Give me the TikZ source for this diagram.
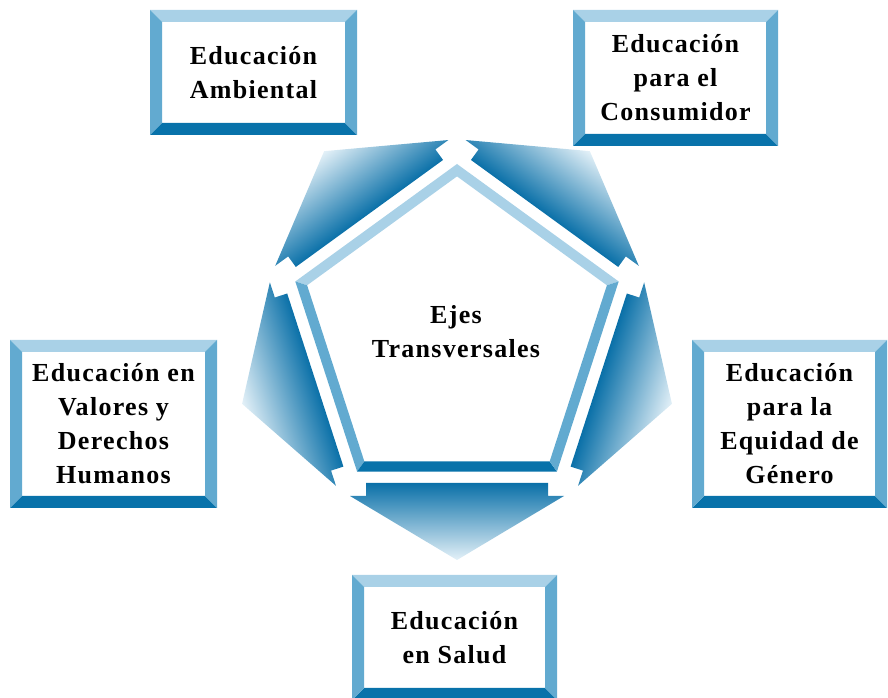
\documentclass[tikz,border=0pt]{standalone}
\usepackage{fontspec}
\setmainfont{Liberation Serif}
\newfontfamily\boxfont{Liberation Serif}[LetterSpace=5]
\definecolor{lightb}{RGB}{169,209,231}
\definecolor{medb}{RGB}{98,170,208}
\definecolor{darkb}{RGB}{8,114,170}
\definecolor{shadedark}{RGB}{10,112,168}
\definecolor{shadelight}{RGB}{228,241,248}
\newcommand\bevbox[6]{%
  \fill[lightb] (#2,#5) -- (#4,#5) -- ({#4-12},{#5-12}) -- ({#2+12},{#5-12}) -- cycle;
  \fill[darkb] (#2,#3) -- (#4,#3) -- ({#4-12},{#3+12}) -- ({#2+12},{#3+12}) -- cycle;
  \fill[medb] (#2,#3) -- (#2,#5) -- ({#2+12},{#5-12}) -- ({#2+12},{#3+12}) -- cycle;
  \fill[medb] (#4,#3) -- (#4,#5) -- ({#4-12},{#5-12}) -- ({#4-12},{#3+12}) -- cycle;
  \node[boxtext] (#1) at ({(#2+#4)/2},{(#3+#5)/2}) {#6};
}
\begin{document}
\begin{tikzpicture}[x=1pt,y=1pt,
  boxtext/.style={align=center,font=\boxfont\bfseries\fontsize{26}{34}\selectfont,text=black,inner sep=0pt}]
\useasboundingbox (0,0) rectangle (888,698);
\coordinate (C) at (457,364);
% pentagon bevel frame
\begin{scope}[shift={(C)}]
  \fill[lightb] (90:170)--(162:170)--(162:157.6)--(90:157.6)--cycle;
  \fill[lightb] (18:170)--(90:170)--(90:157.6)--(18:157.6)--cycle;
  \fill[medb] (162:170)--(234:170)--(234:157.6)--(162:157.6)--cycle;
  \fill[darkb] (234:170)--(306:170)--(306:157.6)--(234:157.6)--cycle;
  \fill[medb] (306:170)--(378:170)--(378:157.6)--(306:157.6)--cycle;
\end{scope}
% outward arrows
\foreach \k in {0,...,4}{
  \begin{scope}[transform canvas={shift={(457,364)},rotate=72*\k}]
    \shade[top color=shadedark,bottom color=shadelight]
      (-91,-149) -- (91,-149) -- (91,-162) -- (107,-162) -- (0,-226)
      -- (-107,-162) -- (-91,-162) -- cycle;
  \end{scope}
}
\node[boxtext] (center) at (456,366) {Ejes\\Transversales};
% boxes
\bevbox{amb}{150}{563}{357}{688}{Educación\\Ambiental}
\bevbox{cons}{573}{552}{778}{688}{Educación\\para el\\Consumidor}
\bevbox{val}{10}{190}{217}{358}{Educación en\\Valores y\\Derechos\\Humanos}
\bevbox{gen}{692}{190}{887}{358}{Educación\\para la\\Equidad de\\Género}
\bevbox{sal}{352}{-2}{557}{123}{Educación\\en Salud}
\end{tikzpicture}
\end{document}
